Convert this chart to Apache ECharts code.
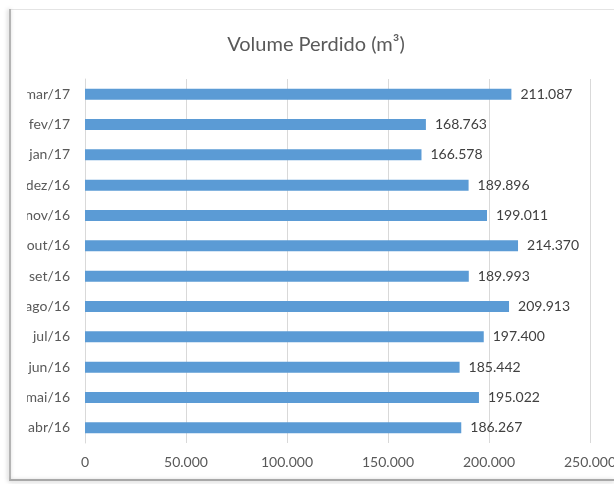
<!DOCTYPE html>
<html>
<head>
<meta charset="utf-8">
<script src="https://cdn.jsdelivr.net/npm/echarts@6/dist/echarts.min.js"></script>
<style>
  html, body { margin: 0; padding: 0; background: #fff; }
  #chart { width: 614px; height: 484px; }
</style>
</head>
<body>
<div id="chart"></div>
<script>
// months, bottom to top
var months = ["abr/16", "mai/16", "jun/16", "jul/16", "ago/16", "set/16", "out/16", "nov/16", "dez/16", "jan/17", "fev/17", "mar/17"];
var volume = [186267, 195022, 185442, 197400, 209913, 189993, 214370, 199011, 189896, 166578, 168763, 211087];
var xTicks = [0, 50000, 100000, 150000, 200000, 250000];

function fmt(v) {
    return String(v).replace(/\B(?=(\d{3})+(?!\d))/g, ".");
}

var font = "Lato, 'Open Sans', sans-serif";

var option = {
    animation: false,
    backgroundColor: "#fff",
    title: {
        text: "Volume Perdido (m³)",
        left: 311,
        textAlign: "center",
        top: 30,
        textStyle: { color: "#595959", fontFamily: font, fontWeight: "normal", fontSize: 20 }
    },
    grid: { left: 85, right: 24, top: 79, bottom: 41, containLabel: false, outerBoundsMode: "none" },
    xAxis: {
        type: "value",
        min: xTicks[0],
        max: xTicks[xTicks.length - 1],
        interval: 50000,
        axisLine: { show: false },
        axisTick: { show: false },
        splitLine: { lineStyle: { color: "#d9d9d9", width: 1 } },
        axisLabel: {
            color: "#595959", fontFamily: font, fontSize: 14, margin: 12,
            formatter: function (v) { return fmt(v); }
        }
    },
    yAxis: {
        type: "category",
        data: months,
        axisLine: { lineStyle: { color: "#d9d9d9" } },
        axisTick: { length: 5, lineStyle: { color: "#d9d9d9" } },
        axisLabel: { color: "#595959", fontFamily: font, fontSize: 14, margin: 15 }
    },
    series: [{
        type: "bar",
        data: volume,
        barWidth: 11,
        itemStyle: { color: "#5b9bd5" },
        label: {
            show: true,
            position: "right",
            distance: 9,
            color: "#404040",
            fontFamily: font,
            fontSize: 14,
            formatter: function (p) { return fmt(p.value); }
        }
    }],
    graphic: [
        { type: "rect", z: 100, shape: { x: 0, y: 0, width: 27, height: 484 }, style: { fill: "#fff" } },
        { type: "line", z: 101, shape: { x1: 10, y1: 9.5, x2: 614, y2: 9.5 }, style: { stroke: "#e4e4e4", lineWidth: 1 } },
        { type: "line", z: 102, shape: { x1: 10, y1: 9, x2: 10, y2: 481 },
          style: { stroke: "#b4b4b4", lineWidth: 2, shadowBlur: 4, shadowColor: "rgba(0,0,0,0.25)", shadowOffsetX: -1 } },
        { type: "line", z: 102, shape: { x1: 10, y1: 480, x2: 614, y2: 480 },
          style: { stroke: "#a8a8a8", lineWidth: 2, shadowBlur: 4, shadowColor: "rgba(0,0,0,0.25)", shadowOffsetY: 1 } }
    ]
};

var chart = echarts.init(document.getElementById("chart"));
chart.setOption(option);
</script>
</body>
</html>
